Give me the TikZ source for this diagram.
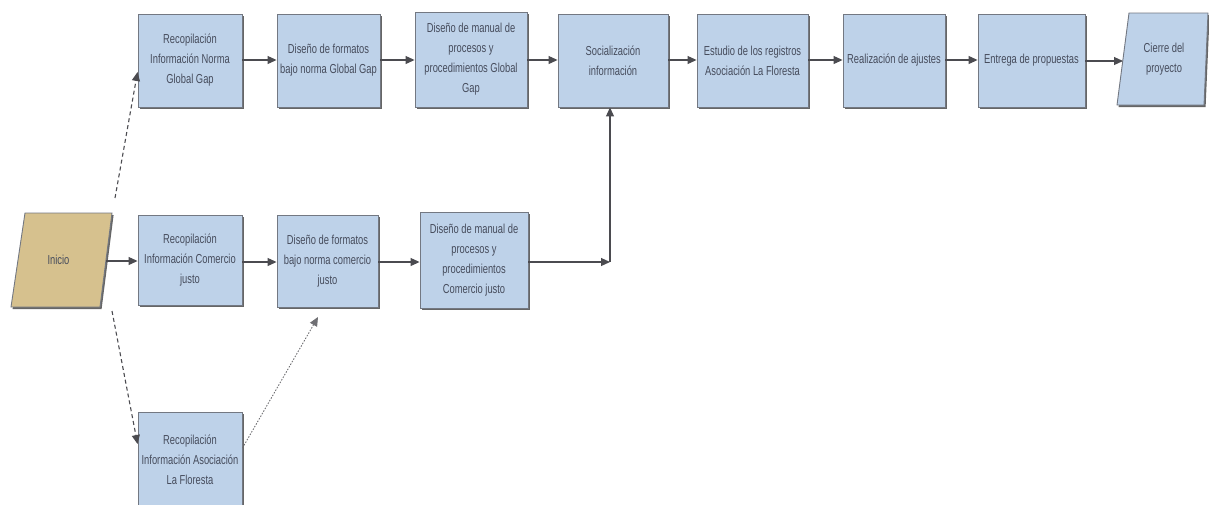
\documentclass[tikz,border=0pt]{standalone}
\usepackage{fontspec}
\setmainfont{Liberation Sans}
\newfontfamily\nf[FakeStretch=0.72]{Liberation Sans}
\usetikzlibrary{shadows,arrows.meta,calc}
\definecolor{boxfill}{RGB}{190,210,233}
\definecolor{boxline}{RGB}{115,120,130}
\definecolor{inifill}{RGB}{214,193,142}
\definecolor{txt}{RGB}{70,76,92}
\definecolor{conn}{RGB}{75,75,80}
\begin{document}
\begin{tikzpicture}[x=1pt,y=-1pt,
  box/.style={draw=boxline, fill=boxfill, line width=0.9pt,
    drop shadow={shadow xshift=1.6pt, shadow yshift=-2pt, fill=black!60, opacity=1},
    align=center, font=\nf\fontsize{13}{20}\selectfont, text=txt, inner sep=2pt},
  shapebox/.style={align=center, font=\nf\fontsize{13}{20}\selectfont, text=txt, inner sep=0pt},
  arr/.style={draw=conn, line width=1.1pt, -{Triangle[length=9pt,width=8pt]}},
  darr/.style={arr, dash pattern=on 4pt off 3pt},
  oarr/.style={arr, draw=conn!80, line width=0.9pt, dash pattern=on 1.5pt off 1.5pt}]
\useasboundingbox (0,0) rectangle (1209,504);

% Inicio parallelogram
\draw[draw=boxline, fill=inifill, line width=0.9pt,
  drop shadow={shadow xshift=1.6pt, shadow yshift=-2pt, fill=black!60, opacity=1}]
  (25,213) -- (112,213) -- (100,307) -- (11,307) -- cycle;
\node[shapebox, minimum width=95pt, minimum height=94pt] (ini) at (58.5,260) {Inicio};

% top row
\node[box, minimum width=104pt, minimum height=93pt] (t1) at (190,60.5)
  {Recopilación\\Información Norma\\Global Gap};
\node[box, minimum width=103pt, minimum height=93pt] (t2) at (328.5,60.5)
  {Diseño de formatos\\bajo norma Global Gap};
\node[box, minimum width=112pt, minimum height=95pt] (t3) at (471,59.5)
  {Diseño de manual de\\procesos y\\procedimientos Global\\Gap};
\node[box, minimum width=110pt, minimum height=93pt] (t4) at (613,60.5)
  {Socialización\\información};
\node[box, minimum width=111pt, minimum height=93pt] (t5) at (752.5,60.5)
  {Estudio de los registros\\Asociación La Floresta};
\node[box, minimum width=102pt, minimum height=93pt] (t6) at (894,60.5)
  {Realización de ajustes};
\node[box, minimum width=107pt, minimum height=93pt] (t7) at (1031.5,60.5)
  {Entrega de propuestas};

% Cierre (slanted shape)
\draw[draw=boxline, fill=boxfill, line width=0.9pt,
  drop shadow={shadow xshift=1.6pt, shadow yshift=-2pt, fill=black!60, opacity=1}]
  (1129,13) -- (1208,13) -- (1204,105) -- (1117,105) -- cycle;
\node[shapebox, minimum width=85pt, minimum height=92pt] (t8) at (1164,59) {Cierre del\\proyecto};
\coordinate (t8w) at (1123,61);

% middle row
\node[box, minimum width=104pt, minimum height=90pt] (b1) at (190,260)
  {Recopilación\\Información Comercio\\justo};
\node[box, minimum width=101pt, minimum height=92pt] (b2) at (327.5,261)
  {Diseño de formatos\\bajo norma comercio\\justo};
\node[box, minimum width=108pt, minimum height=96pt] (b3) at (474,260)
  {Diseño de manual de\\procesos y\\procedimientos\\Comercio justo};

% bottom
\node[box, minimum width=104pt, minimum height=96pt] (c1) at (190,460)
  {Recopilación\\Información Asociación\\La Floresta};

% connectors
\coordinate (j) at (610,262);
\coordinate (iniUp) at (115,198);
\coordinate (iniDn) at (112,311);
\draw[arr] (ini.east |- 0,261) -- (b1.west |- 0,261);
\draw[darr] (iniUp) -- (t1.west |- 0,72);
\draw[darr] (iniDn) -- (c1.west |- 0,444);
\draw[oarr] (c1.east |- 0,448) -- (318,317);
\draw[arr] (t1.east |- 0,60) -- (t2.west |- 0,60);
\draw[arr] (t2.east |- 0,60) -- (t3.west |- 0,60);
\draw[arr] (t3.east |- 0,60) -- (t4.west |- 0,60);
\draw[arr] (t4.east |- 0,60) -- (t5.west |- 0,60);
\draw[arr] (t5.east |- 0,60) -- (t6.west |- 0,60);
\draw[arr] (t6.east |- 0,60) -- (t7.west |- 0,60);
\draw[arr] (t7.east |- 0,61) -- (t8w);
\draw[arr] (b1.east |- 0,262) -- (b2.west |- 0,262);
\draw[arr] (b2.east |- 0,262) -- (b3.west |- 0,262);
\draw[arr] (b3.east |- j) -- (j);
\draw[arr] (j) -- (j |- t4.south);
\end{tikzpicture}
\end{document}
